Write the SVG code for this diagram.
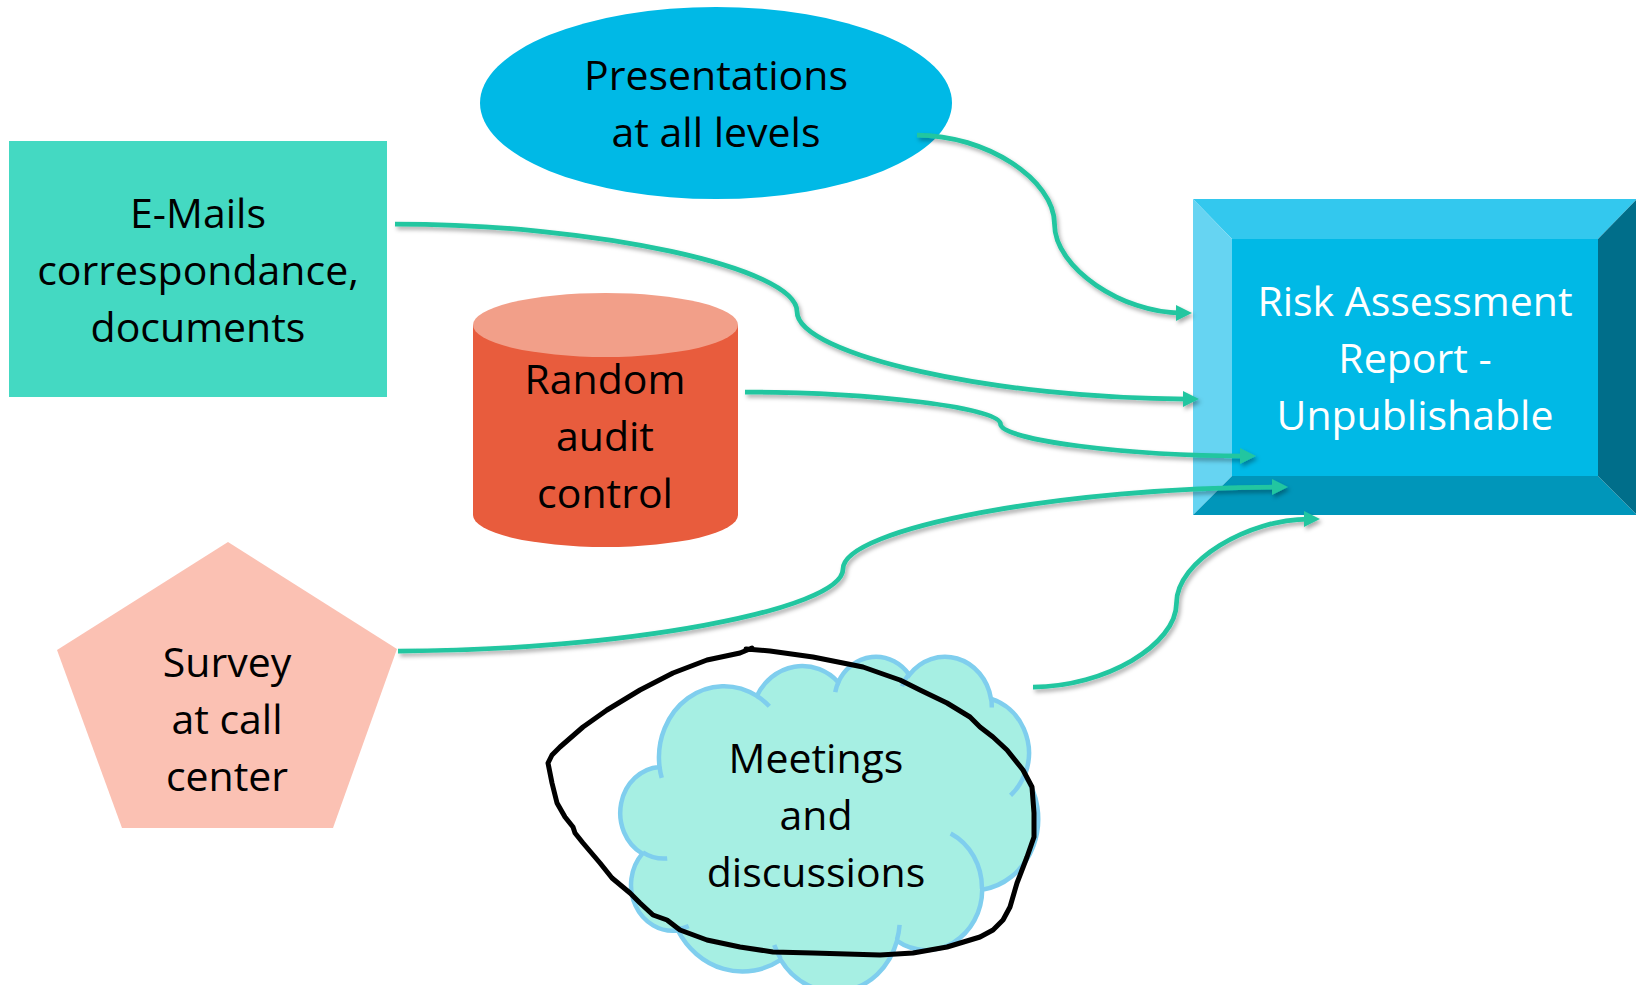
<svg xmlns="http://www.w3.org/2000/svg" width="1636" height="985" viewBox="0 0 1636 985">
  <style>
    .lbl { font-family: "Open Sans", "Liberation Sans", sans-serif; font-size: 41px; fill: #000000; text-anchor: middle; }
    .lbl-w { font-family: "Open Sans", "Liberation Sans", sans-serif; font-size: 41px; fill: #FFFFFF; text-anchor: middle; }
    .conn { fill: none; stroke: #20C6A0; stroke-width: 4.75; marker-end: url(#arr); }
    .cloud-line { fill: none; stroke: #7FCEEE; stroke-width: 4.5; vector-effect: non-scaling-stroke; }
  </style>
  <defs>
    <marker id="arr" markerUnits="userSpaceOnUse" markerWidth="17" markerHeight="17" viewBox="0 0 17 17" refX="5" refY="8.5" orient="auto">
      <path d="M0,0.5 L16,8.5 L0,16.5 z" fill="#20C6A0"/>
    </marker>
    <filter id="shadow" filterUnits="userSpaceOnUse" x="0" y="0" width="1636" height="985">
      <feDropShadow dx="2" dy="3" stdDeviation="2" flood-color="#000000" flood-opacity="0.33"/>
    </filter>
  </defs>

  <rect x="0" y="0" width="1636" height="985" fill="#FFFFFF"/>

  <g id="node-presentations">
    <ellipse cx="716" cy="103" rx="236" ry="96" fill="#00B9E6"/>
    <text class="lbl" x="716" y="90">Presentations</text>
    <text class="lbl" x="716" y="147">at all levels</text>
  </g>

  <g id="node-emails">
    <rect x="9" y="141" width="378" height="256" fill="#44D9C2"/>
    <text class="lbl" x="198" y="228">E-Mails</text>
    <text class="lbl" x="198" y="285">correspondance,</text>
    <text class="lbl" x="198" y="342">documents</text>
  </g>

  <g id="node-random-audit">
    <path d="M473,325 L473,515 A132.5,32 0 0 0 738,515 L738,325 Z" fill="#E85C3D"/>
    <ellipse cx="605.5" cy="325" rx="132.5" ry="32" fill="#F29F89"/>
    <text class="lbl" x="605" y="394">Random</text>
    <text class="lbl" x="605" y="451">audit</text>
    <text class="lbl" x="605" y="508">control</text>
  </g>

  <g id="node-survey">
    <polygon points="228,542 397,649 333,828 122,828 57,650" fill="#FBC1B3"/>
    <text class="lbl" x="227" y="677">Survey</text>
    <text class="lbl" x="227" y="734">at call</text>
    <text class="lbl" x="227" y="791">center</text>
  </g>

  <g id="node-meetings">
    <g transform="translate(622,655.6) scale(0.00963,0.00775)">
      <path fill="#A6EFE3" stroke="#7FCEEE" stroke-width="4.5" vector-effect="non-scaling-stroke"
        d="M3900,14370 A6753,9190 0 0 1 14005,5202 A5333,7267 0 0 1 22456,3432 A4365,5945 0 0 1 29834,2481 A4857,6595 0 0 1 38319,5576 A5333,7273 0 0 1 41819,15460 A6775,9220 0 0 1 37406,30204 A5785,7867 0 0 1 28557,36814 A6752,9215 0 0 1 16481,39265 A7720,10543 0 0 1 5806,35470 A4360,5918 0 0 1 2114,25548 A4345,5945 0 0 1 3900,14370 Z"/>
      <path class="cloud-line"
        d="M4693,26177 A4345,5945 0 0 1 2160,25380 M6928,34899 A4360,5918 0 0 1 5820,35281 M16478,39090 A6752,9215 0 0 1 15810,37350 M28827,34751 A6752,9215 0 0 1 28560,36660 M34129,22954 A5785,7867 0 0 1 37381,30090 M41798,15354 A5333,7273 0 0 1 40348,18033 M38324,5426 A4857,6595 0 0 1 38400,6690 M29078,3952 A4857,6595 0 0 1 29820,2341 M22141,4720 A4365,5945 0 0 1 22500,3331 M14000,5192 A6753,9190 0 0 1 15300,6540 M4127,15789 A6753,9190 0 0 1 3900,14371"/>
    </g>
    <text class="lbl" x="816" y="773">Meetings</text>
    <text class="lbl" x="816" y="830">and</text>
    <text class="lbl" x="816" y="887">discussions</text>
  </g>

  <g id="node-risk-report">
    <polygon points="1193,199 1637,199 1598,239 1232,239" fill="#33C8EE"/>
    <polygon points="1193,199 1232,239 1232,476 1193,515" fill="#66D4F2"/>
    <polygon points="1193,515 1232,476 1598,476 1637,515" fill="#0096BA"/>
    <polygon points="1637,199 1637,515 1598,476 1598,239" fill="#006E8A"/>
    <rect x="1232" y="239" width="366" height="237" fill="#00B9E6"/>
    <text class="lbl-w" x="1415" y="316">Risk Assessment</text>
    <text class="lbl-w" x="1415" y="373">Report -</text>
    <text class="lbl-w" x="1415" y="430">Unpublishable</text>
  </g>

  <g id="connectors" filter="url(#shadow)">
    <path class="conn" d="M917,135 C985.75,135 1054.5,179.5 1054.5,224 C1054.5,268.5 1123.25,313 1181,313"/>
    <path class="conn" d="M395,224 C596,224 797,267.75 797,311.5 C797,355.25 998,399 1188,399"/>
    <path class="conn" d="M745,392 C872.75,392 1000.5,408 1000.5,424 C1000.5,440 1128.25,456 1245,456"/>
    <path class="conn" d="M398,651 C620.5,651 843,610 843,569 C843,528 1065.5,487 1277,487"/>
    <path class="conn" d="M1033,687 C1104.75,687 1176.5,645 1176.5,603 C1176.5,561 1248.25,519 1309,519"/>
  </g>

  <g id="annotation-loop">
    <path fill="none" stroke="#000000" stroke-width="5" stroke-linejoin="round" stroke-linecap="round"
      d="M746,649 L770,651 L813,657 L863,667 L880,673 L900,680 L920,690 L947,703 L970,717 L980,727 L993,737 L1007,750 L1023,770 L1032,787 L1034,813 L1034,837 L1027,857 L1017,883 L1010,907 L1003,920 L993,930 L980,937 L947,947 L913,953 L880,955 L813,953 L773,952 L740,947 L707,940 L680,930 L667,920 L653,915 L640,903 L630,893 L612,878 L600,863 L583,843 L575,833 L573,827 L565,817 L557,803 L552,783 L548,763 L552,755 L560,747 L583,727 L607,710 L640,690 L673,673 L707,660 L740,653 L752,648"/>
  </g>
</svg>
